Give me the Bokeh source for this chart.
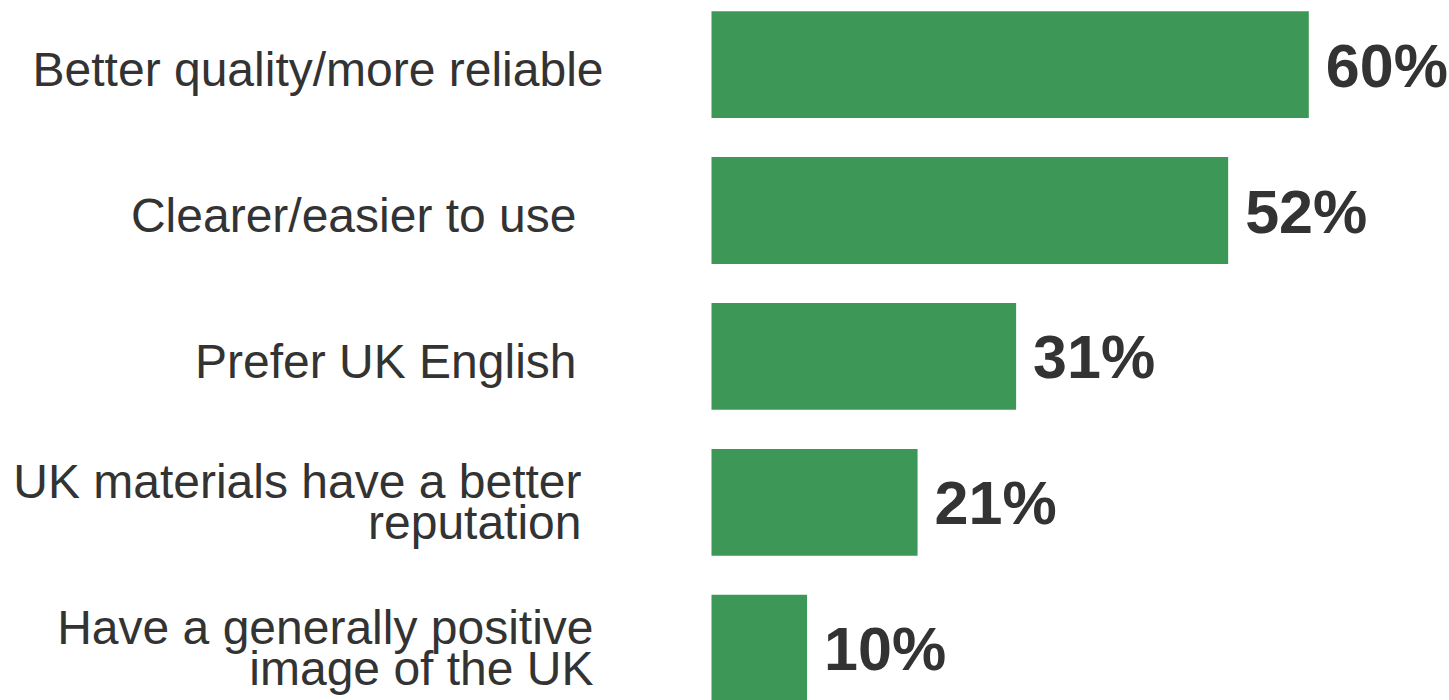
from bokeh.plotting import figure
from bokeh.models import ColumnDataSource, Range1d
from bokeh.core.properties import value
from bokeh.embed import file_html
from bokeh.resources import INLINE

# ---- data ----
categories = [
    "Better quality/more reliable",
    "Clearer/easier to use",
    "Prefer UK English",
    "UK materials have a better\nreputation",
    "Have a generally positive\nimage of the UK",
]
percentages = [60.0, 51.9, 30.6, 20.7, 9.6]
value_labels = [f"{int(v + 0.5)}%" for v in percentages]

# ---- layout / style ----
W, H = 1449, 700
zero_px = 711
px_per_unit = 9.955
top_center_px = 64.1
pitch_px = 145.9
bar_color = "#3d9857"
text_color = "#333333"
label_right_px = [603, 576, 576, 581, 593]
label_dy_px = [5 if "\n" not in c else 0 for c in categories]

ypos = list(range(len(categories)))

src = ColumnDataSource(dict(
    y=ypos,
    val=percentages,
    cat=categories,
    vlab=value_labels,
    zero=[0] * len(categories),
    cat_off=[r - zero_px for r in label_right_px],
    cat_dy=label_dy_px,
))

p = figure(
    width=W, height=H,
    output_backend="svg", toolbar_location=None,
    min_border=0, min_border_left=0, min_border_right=0,
    min_border_top=0, min_border_bottom=0,
    x_range=Range1d(-zero_px / px_per_unit, (W - zero_px) / px_per_unit),
    y_range=Range1d((H - top_center_px) / pitch_px, -top_center_px / pitch_px),
    background_fill_color="white", border_fill_color="white",
)
p.axis.visible = False
p.grid.visible = False
p.outline_line_color = None

p.hbar(y="y", left=0, right="val", height=106.8 / pitch_px, source=src,
       fill_color=bar_color, line_color=None)

p.text(x="val", y="y", text="vlab", source=src, x_offset=17, y_offset=1,
       text_align="left", text_baseline="middle",
       text_font=value("Liberation Sans"), text_font_style="bold",
       text_font_size="61px", text_color=text_color)

p.text(x="zero", y="y", text="cat", source=src, x_offset="cat_off",
       y_offset="cat_dy",
       text_align="right", text_baseline="middle",
       text_font=value("Liberation Sans"), text_font_size="48px",
       text_line_height=0.78, text_color=text_color)

open("out.html", "w").write(file_html(p, INLINE))
